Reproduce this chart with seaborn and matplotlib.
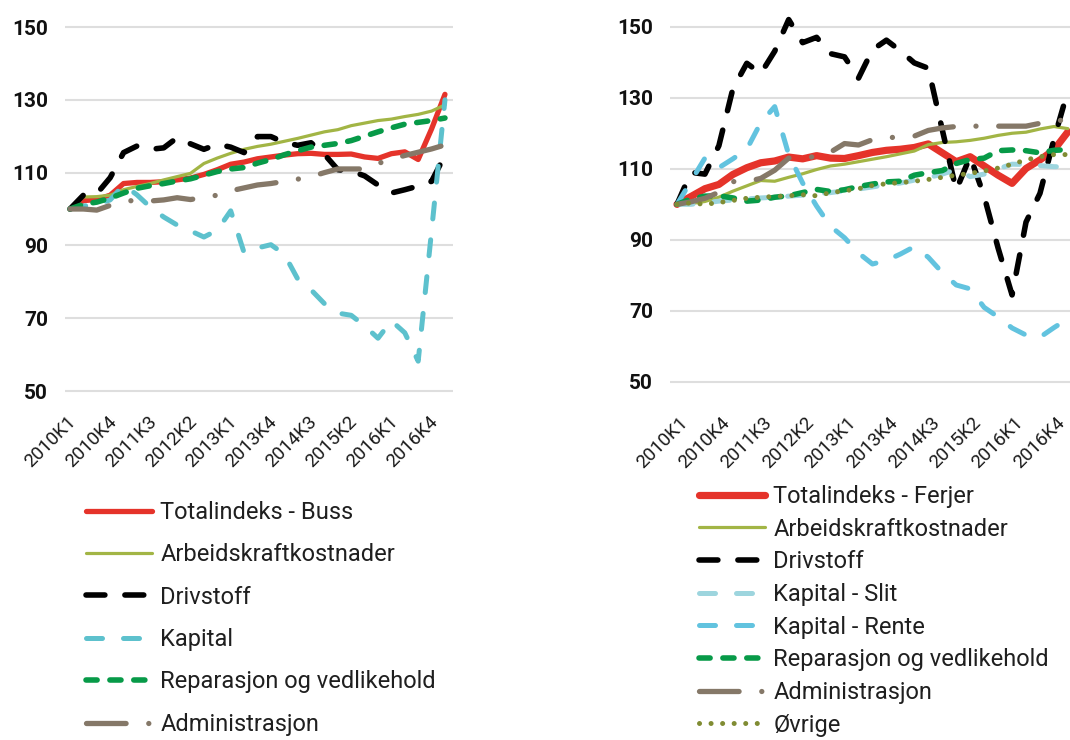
import numpy as np
import matplotlib
matplotlib.use("Agg")
import matplotlib.pyplot as plt
import seaborn as sns
from matplotlib.transforms import ScaledTranslation

# ---------------- data ----------------
quarters = ["2010K1", "2010K2", "2010K3", "2010K4", "2011K1", "2011K2", "2011K3", "2011K4",
            "2012K1", "2012K2", "2012K3", "2012K4", "2013K1", "2013K2", "2013K3", "2013K4",
            "2014K1", "2014K2", "2014K3", "2014K4", "2015K1", "2015K2", "2015K3", "2015K4",
            "2016K1", "2016K2", "2016K3", "2016K4", "2017K1"]
tick_labels = ["2010K1", "2010K4", "2011K3", "2012K2", "2013K1",
               "2013K4", "2014K3", "2015K2", "2016K1", "2016K4"]
y_ticks = [50, 70, 90, 110, 130, 150]

# Left chart: Buss
buss_names = ["Totalindeks - Buss", "Arbeidskraftkostnader", "Drivstoff", "Kapital",
              "Reparasjon og vedlikehold", "Administrasjon"]
buss_total = [100, 102.3, 102.6, 103.8, 107.0, 107.3, 107.3, 107.5, 108.0, 108.5, 109.5, 110.8,
              112.3, 112.9, 113.8, 114.3, 114.8, 115.2, 115.3, 115.0, 115.0, 115.1, 114.3, 113.9,
              115.2, 115.7, 113.6, 122.0, 131.5]
buss_arbeid = [100, 103.3, 103.4, 103.8, 105.3, 106.2, 107.0, 108.0, 108.9, 109.8, 112.5, 114.0,
               115.3, 116.4, 117.2, 117.8, 118.6, 119.4, 120.3, 121.2, 121.8, 122.9, 123.6, 124.3,
               124.7, 125.4, 126.0, 126.9, 128.6]
buss_drivstoff = [100, 103.8, 104.2, 108.6, 115.5, 117.3, 116.4, 116.8, 119.6, 117.9, 116.4, 117.8,
                  117.0, 115.5, 119.9, 119.9, 118.3, 117.5, 118.2, 115.0, 110.8, 110.4, 109.1, 106.6,
                  104.4, 105.3, 106.3, 107.6, 114.8]
buss_kapital = [100, 100.8, 101.3, 102.5, 106.6, 103.9, 100.5, 97.8, 95.6, 94.0, 92.3, 94.2,
                99.5, 88.0, 89.3, 90.2, 87.6, 80.8, 77.8, 74.0, 71.4, 70.8, 67.9, 64.5,
                69.3, 66.0, 58.2, 94.0, 130.0]
buss_reparasjon = [100, 101.3, 101.9, 103.0, 104.4, 105.7, 106.4, 107.0, 107.7, 108.3, 109.3, 110.3,
                   111.0, 111.4, 112.6, 113.6, 114.9, 116.0, 117.0, 117.5, 118.0, 118.8, 120.0, 121.2,
                   122.3, 123.3, 123.8, 124.3, 125.0]
buss_admin = [100, 100.0, 99.7, 101.0, 102.0, 102.5, 102.2, 102.5, 103.1, 102.6, 103.2, 103.8,
              105.0, 105.8, 106.6, 107.0, 107.6, 108.2, 108.9, 110.0, 111.0, 111.0, 111.0, 112.5,
              113.7, 114.7, 115.6, 116.5, 117.6]

# Right chart: Ferjer
ferje_names = ["Totalindeks - Ferjer", "Arbeidskraftkostnader", "Drivstoff", "Kapital - Slit",
               "Kapital - Rente", "Reparasjon og vedlikehold", "Administrasjon", "Øvrige"]
ferje_total = [100, 102.2, 104.4, 105.6, 108.4, 110.3, 111.7, 112.2, 113.3, 112.8, 113.7, 113.0,
               112.9, 113.7, 114.6, 115.2, 115.5, 116.0, 117.0, 114.5, 112.0, 113.4, 110.8, 108.2,
               105.9, 110.1, 112.5, 115.3, 120.4]
ferje_arbeid = [100, 100.2, 100.8, 102.0, 103.7, 105.2, 106.7, 106.5, 107.6, 108.6, 109.8, 110.8,
                111.3, 112.0, 112.7, 113.4, 114.2, 115.0, 116.8, 117.4, 117.6, 118.0, 118.6, 119.4,
                120.0, 120.3, 121.2, 121.9, 121.3]
ferje_drivstoff = [100, 109.0, 108.5, 116.5, 132.5, 139.7, 136.8, 143.1, 152.0, 145.5, 147.0, 142.4,
                   141.5, 135.5, 143.5, 146.2, 143.2, 139.8, 138.3, 121.0, 104.0, 113.5, 102.3, 87.7,
                   74.5, 95.0, 103.1, 118.3, 132.0]
ferje_slit = [100, 100.0, 100.4, 100.9, 101.2, 101.5, 101.8, 102.0, 102.3, 102.6, 103.0, 103.3,
              103.8, 104.3, 104.9, 105.5, 106.0, 106.8, 107.5, 108.5, 109.8, 107.8, 108.5, 110.0,
              111.3, 111.2, 110.9, 110.6, 110.5]
ferje_rente = [100, 106.5, 113.0, 110.3, 112.8, 115.5, 123.0, 127.5, 114.0, 106.0, 99.5, 93.8,
               90.6, 86.3, 83.2, 84.2, 86.0, 88.1, 85.1, 80.8, 77.3, 76.2, 71.0, 68.3,
               65.2, 63.2, 62.6, 65.3, 67.8]
ferje_reparasjon = [100, 101.5, 102.3, 102.4, 101.8, 100.9, 101.2, 102.0, 102.4, 103.3, 104.2, 103.6,
                    104.1, 105.0, 105.7, 106.3, 106.5, 108.2, 108.9, 109.5, 111.5, 112.6, 113.0, 115.1,
                    115.3, 115.1, 114.5, 115.2, 115.4]
ferje_admin = [100, 100.7, 101.7, 103.4, 106.4, 106.4, 107.3, 109.6, 113.0, 113.0, 113.5, 114.7,
               117.1, 116.7, 118.2, 118.7, 119.0, 119.2, 120.8, 121.5, 121.9, 122.0, 122.0, 122.0,
               122.0, 122.0, 122.8, 123.3, 124.0]
ferje_ovrige = [100, 100.4, 100.0, 100.5, 101.1, 101.7, 102.0, 102.2, 102.4, 102.7, 102.4, 103.3,
                103.8, 104.4, 105.3, 105.8, 106.1, 106.5, 107.0, 107.6, 108.2, 108.7, 109.4, 110.2,
                111.3, 112.5, 113.4, 114.0, 114.0]

# ---------------- styles ----------------
RED = "#E5332A"
YGREEN = "#A2B545"
BLACK = "#000000"
CYAN_L = "#5DC1CD"
RENTE = "#62C3DF"
SLIT = "#9DD5DE"
GREEN = "#079A48"
BROWN = "#857868"
OLIVE = "#808C33"

DASH_BLACK = (0, (3.4, 3.6))
DASH_CYAN = (0, (3.2, 4.2))
DASH_GREEN = (0, (2.0, 2.3))
DASH_ADMIN = (0, (7.5, 4.3, 0.01, 4.3))
DOTS = (0, (0.01, 2.3))

buss_styles = [
    dict(color=RED, lw=3.8, ls="-"),
    dict(color=YGREEN, lw=2.3, ls="-"),
    dict(color=BLACK, lw=4.0, ls=DASH_BLACK),
    dict(color=CYAN_L, lw=3.6, ls=DASH_CYAN),
    dict(color=GREEN, lw=4.0, ls=DASH_GREEN),
    dict(color=BROWN, lw=3.8, ls=DASH_ADMIN),
]
ferje_styles = [
    dict(color=RED, lw=5.2, ls="-"),
    dict(color=YGREEN, lw=2.3, ls="-"),
    dict(color=BLACK, lw=4.0, ls=DASH_BLACK),
    dict(color=SLIT, lw=3.6, ls=DASH_CYAN),
    dict(color=RENTE, lw=3.6, ls=DASH_CYAN),
    dict(color=GREEN, lw=4.0, ls=DASH_GREEN),
    dict(color=BROWN, lw=3.8, ls=DASH_ADMIN),
    dict(color=OLIVE, lw=3.6, ls=DOTS),
]

sns.set_theme(style="white")
plt.rcParams["font.family"] = ["Roboto", "DejaVu Sans"]

W, H = 1070, 740
fig = plt.figure(figsize=(W / 100, H / 100), dpi=100)
fig.patch.set_facecolor("white")


def add_axes(x0, x1, y_top, y_bot):
    return fig.add_axes([x0 / W, 1 - y_bot / H, (x1 - x0) / W, (y_bot - y_top) / H])


def draw(ax, names, series, styles, xlim, ylim, label_dx, label_pad,
         leg_xy, labelspacing):
    x = np.arange(len(quarters))
    handles = []
    for name, vals, st in zip(names, series, styles):
        sns.lineplot(x=x, y=vals, ax=ax, color=st["color"], linewidth=st["lw"],
                     linestyle=st["ls"], sort=False, estimator=None,
                     solid_capstyle="round", dash_capstyle="round",
                     solid_joinstyle="round", dash_joinstyle="round")
        handles.append(ax.lines[-1])
    ax.set_xlim(*xlim)
    ax.set_ylim(*ylim)
    for s in ax.spines.values():
        s.set_visible(False)
    ax.set_facecolor("white")
    ax.set_yticks(y_ticks)
    ax.yaxis.grid(True, color="#DEDEDE", linewidth=1.5)
    ax.xaxis.grid(False)
    ax.set_axisbelow(True)
    ax.tick_params(axis="y", length=0, pad=12.2, labelsize=15, labelcolor="#111111")
    for t in ax.get_yticklabels():
        t.set_fontweight("bold")
    ax.set_xticks([quarters.index(t) for t in tick_labels])
    ax.set_xticklabels(tick_labels, rotation=45, ha="right", va="top",
                       rotation_mode="anchor", fontsize=13.5, color="#1a1a1a")
    ax.tick_params(axis="x", length=0, pad=label_pad)
    off = ScaledTranslation(label_dx / 100, 0, fig.dpi_scale_trans)
    for t in ax.get_xticklabels():
        t.set_transform(t.get_transform() + off)
    ax.set_xlabel("")
    ax.set_ylabel("")
    leg = ax.legend(handles=handles, labels=names, loc="upper left",
                    bbox_to_anchor=(leg_xy[0] / W, 1 - leg_xy[1] / H),
                    bbox_transform=fig.transFigure, frameon=False, fontsize=17,
                    handlelength=2.8, handletextpad=0.35, labelspacing=labelspacing,
                    borderpad=0, borderaxespad=0)
    for t in leg.get_texts():
        t.set_color("#1F1F1F")


axL = add_axes(65, 453, 8.8, 398.3)
axR = add_axes(670, 1070, 8.9, 389.1)

draw(axL, buss_names,
     [buss_total, buss_arbeid, buss_drivstoff, buss_kapital, buss_reparasjon, buss_admin],
     buss_styles, xlim=(-0.373, 28.6), ylim=(48, 155), label_dx=-3, label_pad=10.5,
     leg_xy=(86, 501), labelspacing=0.82)

draw(axR, ferje_names,
     [ferje_total, ferje_arbeid, ferje_drivstoff, ferje_slit, ferje_rente,
      ferje_reparasjon, ferje_admin, ferje_ovrige],
     ferje_styles, xlim=(-0.501, 28.15), ylim=(48, 155), label_dx=2, label_pad=17.5,
     leg_xy=(699, 485), labelspacing=0.41)

fig.savefig("out.png", dpi=100)
